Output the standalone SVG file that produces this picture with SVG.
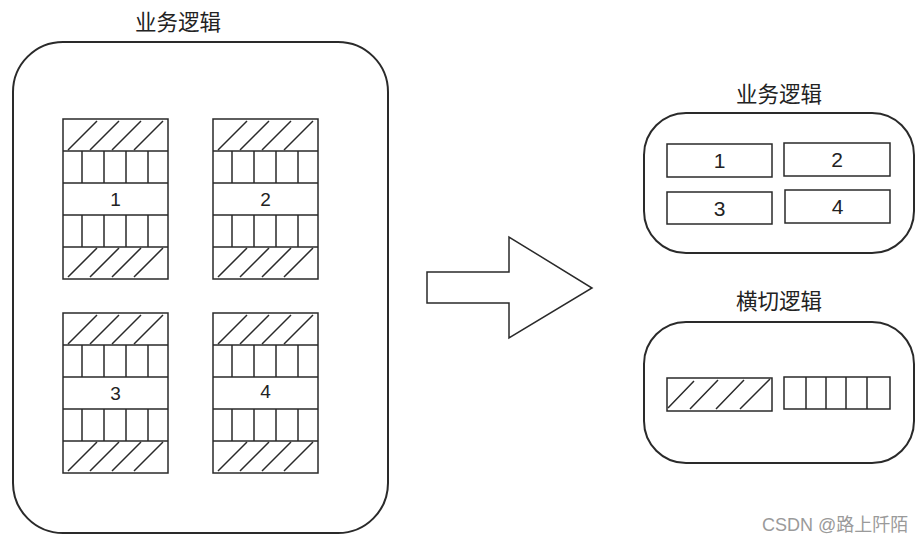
<svg xmlns="http://www.w3.org/2000/svg" xmlns:xlink="http://www.w3.org/1999/xlink" width="921" height="543" viewBox="0 0 921 543">
<style>
.s{fill:none;stroke:#2a2a2a;stroke-width:1.5}
.box{fill:#fff;stroke:#2a2a2a;stroke-width:1.5}
.big{fill:#fff;stroke:#2a2a2a;stroke-width:2}
.num{font-family:"Liberation Sans",Arial,sans-serif;font-size:19px;fill:#222;text-anchor:middle}
.num2{font-family:"Liberation Sans",Arial,sans-serif;font-size:21px;fill:#222;text-anchor:middle}
.ttl{font-family:"Noto Sans CJK SC","Noto Sans",sans-serif;font-size:21.5px;fill:#222;text-anchor:middle}
.wm{font-family:"Liberation Sans","Noto Sans CJK SC",sans-serif;font-size:18px;fill:#9a9a9a}
</style>
<defs>
<g id="modBody">
<rect class="box" x="0" y="0" width="105" height="160"/>
<path class="s" d="M0 32H105M0 64H105M0 96H105M0 128H105"/>
<path class="s" d="M19 32V64M41 32V64M63 32V64M85 32V64M19 96V128M41 96V128M63 96V128M85 96V128"/>
<path class="s" d="M5 31L34 2M27 31L56 2M49 31L78 2M71 31L100 2"/>
<path class="s" d="M5 158L34 129M27 158L56 129M49 158L78 129M71 158L100 129"/>
</g>
</defs>
<rect width="921" height="543" fill="#fff"/>

<g id="business-logic-left">
<rect class="big" x="13" y="42" width="375" height="491" rx="50" ry="50"/>
<text class="ttl" x="178" y="30">业务逻辑</text>
</g>

<g id="module-1">
<use xlink:href="#modBody" x="63" y="119"/>
<text class="num" x="115.5" y="206">1</text>
</g>
<g id="module-2">
<use xlink:href="#modBody" x="213" y="119"/>
<text class="num" x="265.5" y="206">2</text>
</g>
<g id="module-3">
<use xlink:href="#modBody" x="63" y="313"/>
<text class="num" x="115.5" y="400">3</text>
</g>
<g id="module-4">
<use xlink:href="#modBody" x="213" y="313"/>
<text class="num" x="265.5" y="398">4</text>
</g>

<g id="connectors">
<path class="box" d="M427 272H509V237L592 288L509 338V303H427Z"/>
</g>

<g id="business-logic-right">
<text class="ttl" x="779" y="102">业务逻辑</text>
<rect class="big" x="644" y="113" width="270" height="140" rx="42" ry="42"/>
<rect class="box" x="667" y="144" width="105" height="33"/>
<text class="num2" x="719.5" y="168">1</text>
<rect class="box" x="784" y="143" width="106" height="33"/>
<text class="num2" x="837" y="167">2</text>
<rect class="box" x="667" y="192" width="105" height="32"/>
<text class="num2" x="719.5" y="216">3</text>
<rect class="box" x="785" y="190" width="105" height="33"/>
<text class="num2" x="837.5" y="214">4</text>
</g>

<g id="crosscut-logic">
<text class="ttl" x="779" y="309">横切逻辑</text>
<rect class="big" x="644" y="322" width="270" height="141" rx="42" ry="42"/>
<rect class="box" x="667" y="378" width="105" height="33"/>
<path class="s" d="M668 408L694 381M690 409L718 380M716 409L744 380M740 409L770 379"/>
<rect class="box" x="784" y="377" width="106" height="32"/>
<path class="s" d="M806 377V409M826 377V409M846 377V409M867 377V409"/>
</g>

<text class="wm" x="762" y="531">CSDN @路上阡陌</text>
</svg>
